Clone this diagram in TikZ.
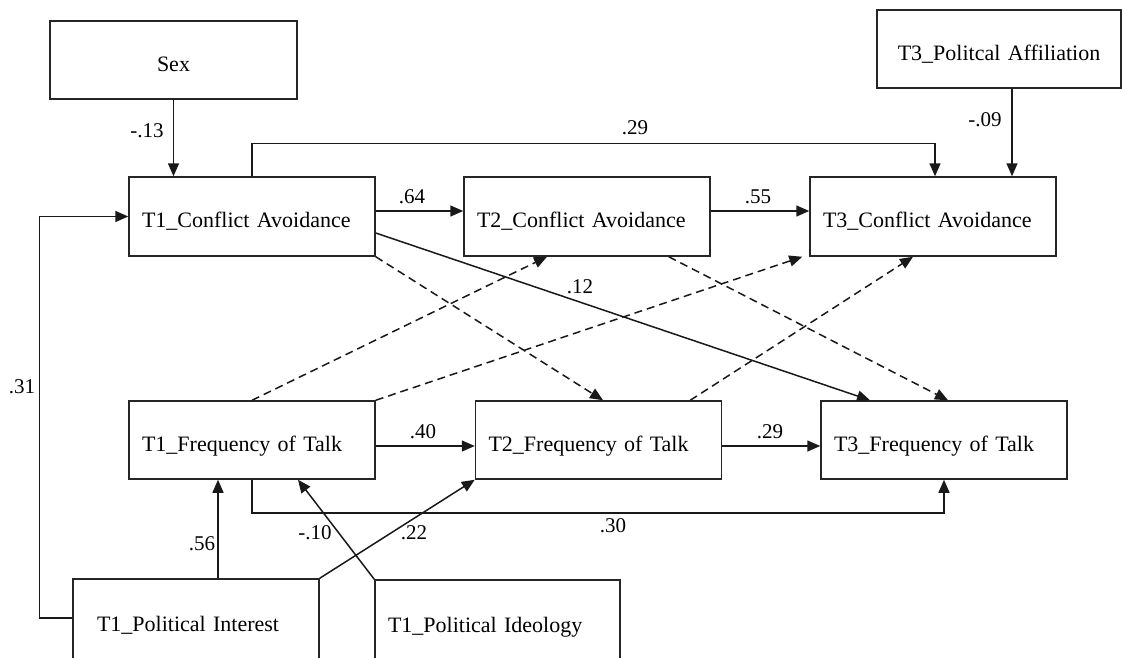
\documentclass[tikz,border=0pt]{standalone}
\usepackage{fontspec}
\setmainfont{Liberation Serif}
\usetikzlibrary{arrows.meta,calc}
\begin{document}
\begin{tikzpicture}[x=1pt,y=-1pt,
  box/.style={draw=black!85, line width=1.5pt, minimum height=78pt, inner xsep=13pt,
    inner ysep=0pt, text width=220pt, text height=22pt, text depth=0pt,
    align=left, font=\fontsize{22}{26}\selectfont},
  link/.style={draw=black!90, line width=1.5pt, -{Triangle[length=13pt,width=11pt]}},
  dashlink/.style={link, dash pattern=on 8pt off 5pt},
  coef/.style={font=\fontsize{21}{24}\selectfont, inner sep=0pt}
]
\useasboundingbox (0,0) rectangle (1122,657);

% exogenous variables
\node[box, align=center, text width=221pt] (sex) at (173.5,60) {Sex};
\node[box, align=center, text width=218pt] (pa) at (999,49) {T3\_Politcal Affiliation};
\node[box, inner xsep=24pt, text width=198pt, minimum height=82pt] (pi) at (196,620) {T1\_Political Interest};
\node[box, text width=219pt, minimum height=82pt] (pid) at (497.5,621) {T1\_Political Ideology};

% conflict avoidance waves
\node[box, minimum height=79pt] (ca1) at (252,216.5) {T1\_Conflict Avoidance};
\node[box, minimum height=79pt] (ca2) at (587,216.5) {T2\_Conflict Avoidance};
\node[box, minimum height=79pt] (ca3) at (933,216.5) {T3\_Conflict Avoidance};

% frequency of talk waves
\node[box] (ft1) at (252,440) {T1\_Frequency of Talk};
\node[box] (ft2) at (598.5,440) {T2\_Frequency of Talk};
\node[box] (ft3) at (944,440) {T3\_Frequency of Talk};

% covariate paths
\draw[link] (sex.south) -- (sex.south |- ca1.north);
\draw[link] ($(pa.south)+(13,0)$) -- ($(pa.south |- ca3.north)+(13,0)$);
\draw[link] ($(pi.north)+(22,0)$) -- ($(pi.north |- ft1.south)+(22,0)$);
\draw[link] ($(pi.west)+(0,-2)$) -- ++(-33,0) |- (ca1.west);
\draw[link] (pi.north east) -- (ft2.south west);
\draw[link] (pid.north west) -- ($(ft1.south)+(46,0)$);

% autoregressive paths
\draw[link] ($(ca1.east)+(0,-5.5)$) -- ($(ca2.west)+(0,-5.5)$);
\draw[link] ($(ca2.east)+(0,-5.5)$) -- ($(ca3.west)+(0,-5.5)$);
\draw[link] ($(ft1.east)+(0,6)$) -- ($(ft2.west)+(0,6)$);
\draw[link] ($(ft2.east)+(0,6)$) -- ($(ft3.west)+(0,6)$);
\draw[link] (ca1.north) -- ++(0,-33) -| ($(ca3.north)+(2,0)$);
\draw[link] (ft1.south) -- ++(0,33) -| (ft3.south);

% cross-lagged paths
\draw[link] ($(ca1.east)+(0,16.5)$) -- ($(ft3.north)+(-74,0)$);
\draw[dashlink] (ca1.south east) -- ($(ft2.north)+(4.5,0)$);
\draw[dashlink] (ft1.north) -- ($(ca2.south)+(-40,0)$);
\draw[dashlink] (ft1.north east) -- ($(ca3.south west)+(-7,0)$);
\draw[dashlink] ($(ft2.north east)+(-32,0)$) -- ($(ca3.south)+(-20,0)$);
\draw[dashlink] ($(ca2.south east)+(-42,0)$) -- ($(ft3.north)+(4,0)$);

% path coefficients
\node[coef] (c1) at (147,131) {-.13};
\node[coef] (c2) at (985,120) {-.09};
\node[coef] (c3) at (635,128) {.29};
\node[coef] (c4) at (412,197) {.64};
\node[coef] (c5) at (758,197) {.55};
\node[coef] (c6) at (580,287) {.12};
\node[coef] (c7) at (423,432) {.40};
\node[coef] (c8) at (770,432) {.29};
\node[coef] (c9) at (613,526) {.30};
\node[coef] (c10) at (414,533) {.22};
\node[coef] (c11) at (315,533) {-.10};
\node[coef] (c12) at (202,544) {.56};
\node[coef] (c13) at (22,387) {.31};
\end{tikzpicture}
\end{document}
